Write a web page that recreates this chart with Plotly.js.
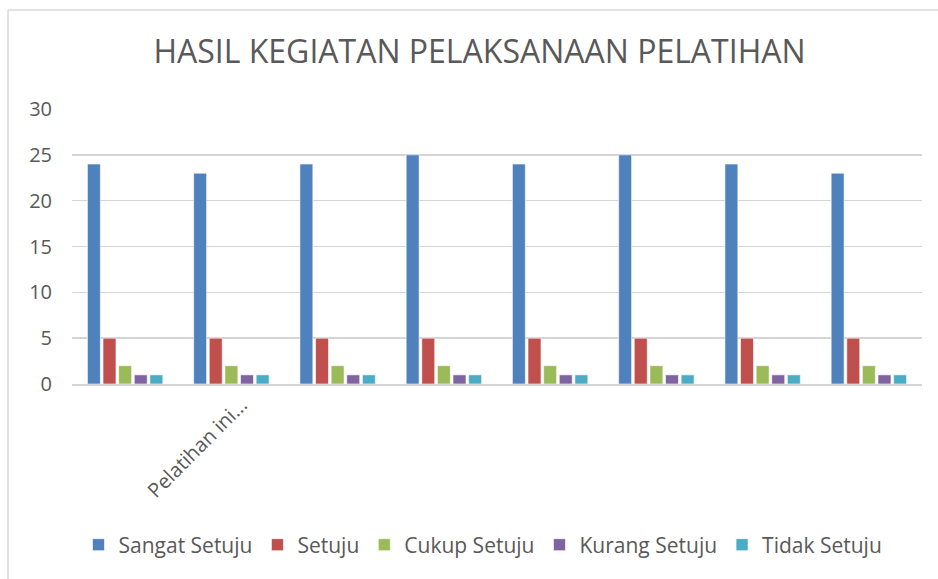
<!DOCTYPE html>
<html>
<head>
<meta charset="utf-8">
<script src="https://cdn.plot.ly/plotly-3.0.1.min.js"></script>
<style>html,body{margin:0;padding:0;background:#fff;}#chart{width:938px;height:579px;}</style>
</head>
<body>
<div id="chart"></div>
<script>
var categories = ["P1", "P2", "P3", "P4", "P5", "P6", "P7", "P8"];
var tickLabels = ["", "Pelatihan ini...", "", "", "", "", "", ""];
var seriesNames = ["Sangat Setuju", "Setuju", "Cukup Setuju", "Kurang Setuju", "Tidak Setuju"];
var sangatSetuju = [24, 23, 24, 25, 24, 25, 24, 23];
var setuju = [5, 5, 5, 5, 5, 5, 5, 5];
var cukupSetuju = [2, 2, 2, 2, 2, 2, 2, 2];
var kurangSetuju = [1, 1, 1, 1, 1, 1, 1, 1];
var tidakSetuju = [1, 1, 1, 1, 1, 1, 1, 1];
var colors = ["#4F81BD", "#C0504D", "#9BBB59", "#8064A2", "#4BACC6"];
var seriesValues = [sangatSetuju, setuju, cukupSetuju, kurangSetuju, tidakSetuju];

var font = "'Open Sans', sans-serif";
var traces = seriesValues.map(function (vals, i) {
  return {
    type: "bar",
    name: seriesNames[i],
    x: categories,
    y: vals,
    marker: { color: colors[i], line: { color: "rgba(255,255,255,0.6)", width: 1 } },
    hoverinfo: "x+y+name"
  };
});

var L = 72, R = 16, T = 109, B = 195, W = 938, H = 579;
var pw = W - L - R, ph = H - T - B;
function px(x) { return (x - L) / pw; }
function py(y) { return (H - B - y) / ph; }

var layout = {
  width: W, height: H,
  autosize: false,
  margin: { l: L, r: R, t: T, b: B, pad: 0, autoexpand: false },
  paper_bgcolor: "#ffffff",
  plot_bgcolor: "#ffffff",
  font: { family: font, color: "#595959" },
  title: {
    text: "HASIL KEGIATAN PELAKSANAAN PELATIHAN",
    font: { family: font, size: 32, color: "#595959" },
    xref: "container", yref: "container",
    x: 479.5 / W, y: 1 - 52 / H, xanchor: "center", yanchor: "middle"
  },
  barmode: "group",
  bargap: 0.265,
  bargroupgap: 0.17,
  xaxis: {
    type: "category",
    tickmode: "array",
    tickvals: categories,
    ticktext: tickLabels,
    tickangle: -45,
    ticklabelshift: 10,
    tickfont: { family: font, size: 20, color: "#595959" },
    showgrid: false,
    showline: true,
    linecolor: "#d4d4d4",
    linewidth: 1.5,
    ticks: "",
    automargin: false,
    fixedrange: true
  },
  yaxis: {
    range: [0, 30],
    tickvals: [0, 5, 10, 15, 20, 25, 30],
    tickfont: { family: font, size: 20, color: "#595959" },
    showgrid: true,
    gridcolor: "#d4d4d4",
    gridwidth: 1.5,
    zeroline: false,
    showline: false,
    ticks: "",
    ticklabelstandoff: 19,
    automargin: false,
    fixedrange: true
  },
  showlegend: true,
  legend: {
    orientation: "h",
    x: px(483), xref: "paper", xanchor: "center",
    y: py(545), yref: "paper", yanchor: "middle",
    font: { family: font, size: 21, color: "#595959" },
    traceorder: "normal",
    bgcolor: "rgba(0,0,0,0)"
  },
  shapes: [
    { type: "line", xref: "paper", yref: "paper", x0: px(8), x1: px(8), y0: py(579), y1: py(10), line: { color: "#d9d9d9", width: 1.5 } },
    { type: "line", xref: "paper", yref: "paper", x0: px(8), x1: px(938), y0: py(10), y1: py(10), line: { color: "#d9d9d9", width: 1.5 } }
  ]
};

Plotly.newPlot("chart", traces, layout, { displayModeBar: false, staticPlot: true });
</script>
</body>
</html>
